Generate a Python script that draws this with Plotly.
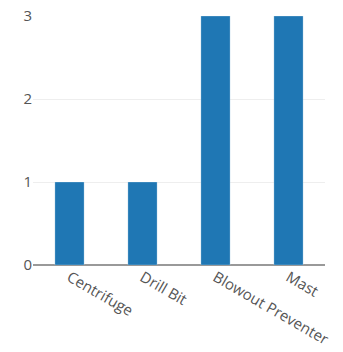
import plotly.graph_objects as go

# dane
equipment = ['Centrifuge', 'Drill Bit', 'Blowout Preventer', 'Mast']
counts = [1, 1, 3, 3]
y_ticks = [0, 1, 2, 3]

fig = go.Figure(go.Bar(
    x=equipment,
    y=counts,
    marker=dict(color='#1f77b4', line=dict(color='rgba(255,255,255,0.5)', width=0.5)),
))

fig.update_layout(
    width=343, height=352,
    margin=dict(l=25, r=26, t=8, b=95),
    paper_bgcolor='white', plot_bgcolor='white',
    font=dict(family='Open Sans', size=15, color='#555'),
    bargap=0.6,
    showlegend=False,
)
fig.update_xaxes(tickangle=30, showgrid=False, automargin=False, ticks='', showline=False)
fig.update_yaxes(tickvals=y_ticks, range=[0, 3], gridcolor='#eee', zeroline=True,
                 zerolinecolor='#999', zerolinewidth=2, automargin=False, ticks='',
                 ticklabeloverflow='allow')

fig.write_html("out.html")
